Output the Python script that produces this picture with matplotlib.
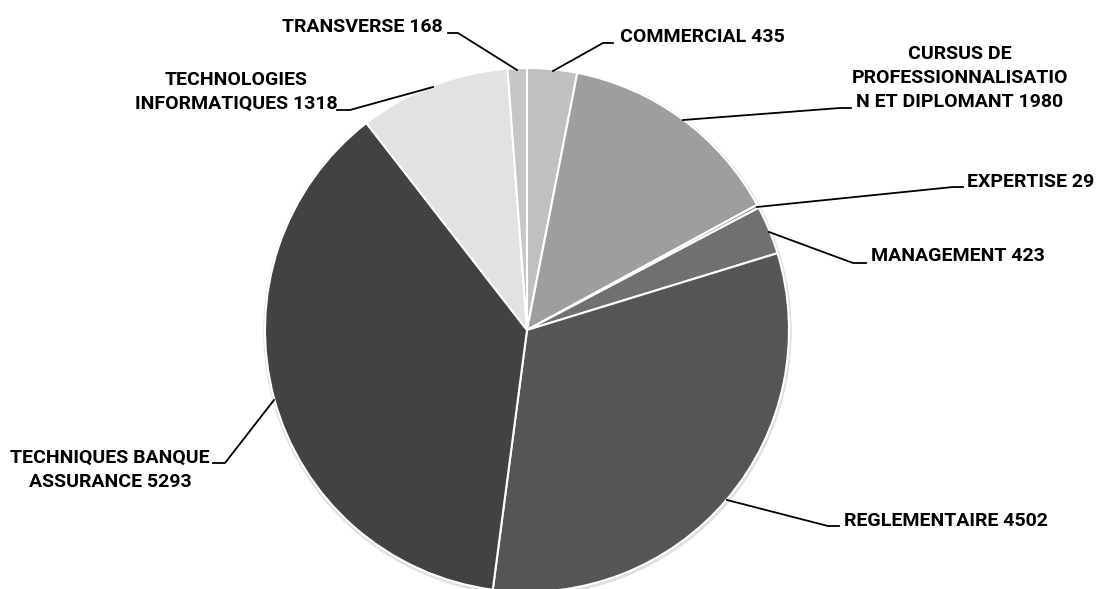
import matplotlib.pyplot as plt

# slice data, clockwise from the top
labels = ["COMMERCIAL", "CURSUS DE\nPROFESSIONNALISATIO\nN ET DIPLOMANT", "EXPERTISE",
          "MANAGEMENT", "REGLEMENTAIRE", "TECHNIQUES BANQUE\nASSURANCE",
          "TECHNOLOGIES\nINFORMATIQUES", "TRANSVERSE"]
values = [435, 1980, 29, 423, 4502, 5293, 1318, 168]
colors = ["#c0c0c0", "#9e9e9e", "#8a8a8a", "#707070", "#555555", "#424242",
          "#e2e2e2", "#c6c6c6"]

W, H = 1102, 589
fig = plt.figure(figsize=(W / 100, H / 100), dpi=100)
ax = fig.add_axes([0, 0, 1, 1])

cx, cy, r = 527, 330, 262

# faint shadow ring
shadow = plt.Circle((cx + 0.5, cy + 1.5), r + 1.5, color="#e0e0e0", zorder=0)
ax.add_patch(shadow)

# y axis is inverted, so counterclock=True draws clockwise on screen
wedges, _ = ax.pie(values, colors=colors, startangle=-90, counterclock=True,
                   center=(cx, cy), radius=r, frame=True,
                   wedgeprops=dict(edgecolor="white", linewidth=1.5))
ax.set_xlim(0, W)
ax.set_ylim(H, 0)
ax.set_aspect("equal")
ax.axis("off")

font = dict(family=["Roboto", "DejaVu Sans"], fontweight="bold", fontsize=14,
            color="black")

# leader lines: (edge point, elbow, end)
leaders = [
    [(553, 71), (603, 43), (613, 43)],
    [(683, 120), (840, 108), (851, 108)],
    [(757, 207), (953, 187), (963, 187)],
    [(769, 232), (853, 263), (866, 263)],
    [(727, 500), (828, 526), (839, 526)],
    [(274, 400), (225, 463), (213, 463)],
    [(433, 87), (350, 110), (337, 110)],
    [(517, 70), (458, 33), (448, 33)],
]
text_pos = [
    (620, 37, "left"),
    (960, 78, "center"),
    (967, 182, "left"),
    (871, 256, "left"),
    (844, 521, "left"),
    (110, 470, "center"),
    (236, 92, "center"),
    (443, 27, "right"),
]

for lab, v, pts, (tx, ty, ha) in zip(labels, values, leaders, text_pos):
    xs = [p[0] for p in pts]
    ys = [p[1] for p in pts]
    ax.plot(xs, ys, color="black", linewidth=1.3, zorder=5)
    ax.text(tx, ty, f"{lab} {v}", ha=ha, va="center", ma="center",
            linespacing=1.45, **font)

fig.savefig("out.png", dpi=100, facecolor="white")
